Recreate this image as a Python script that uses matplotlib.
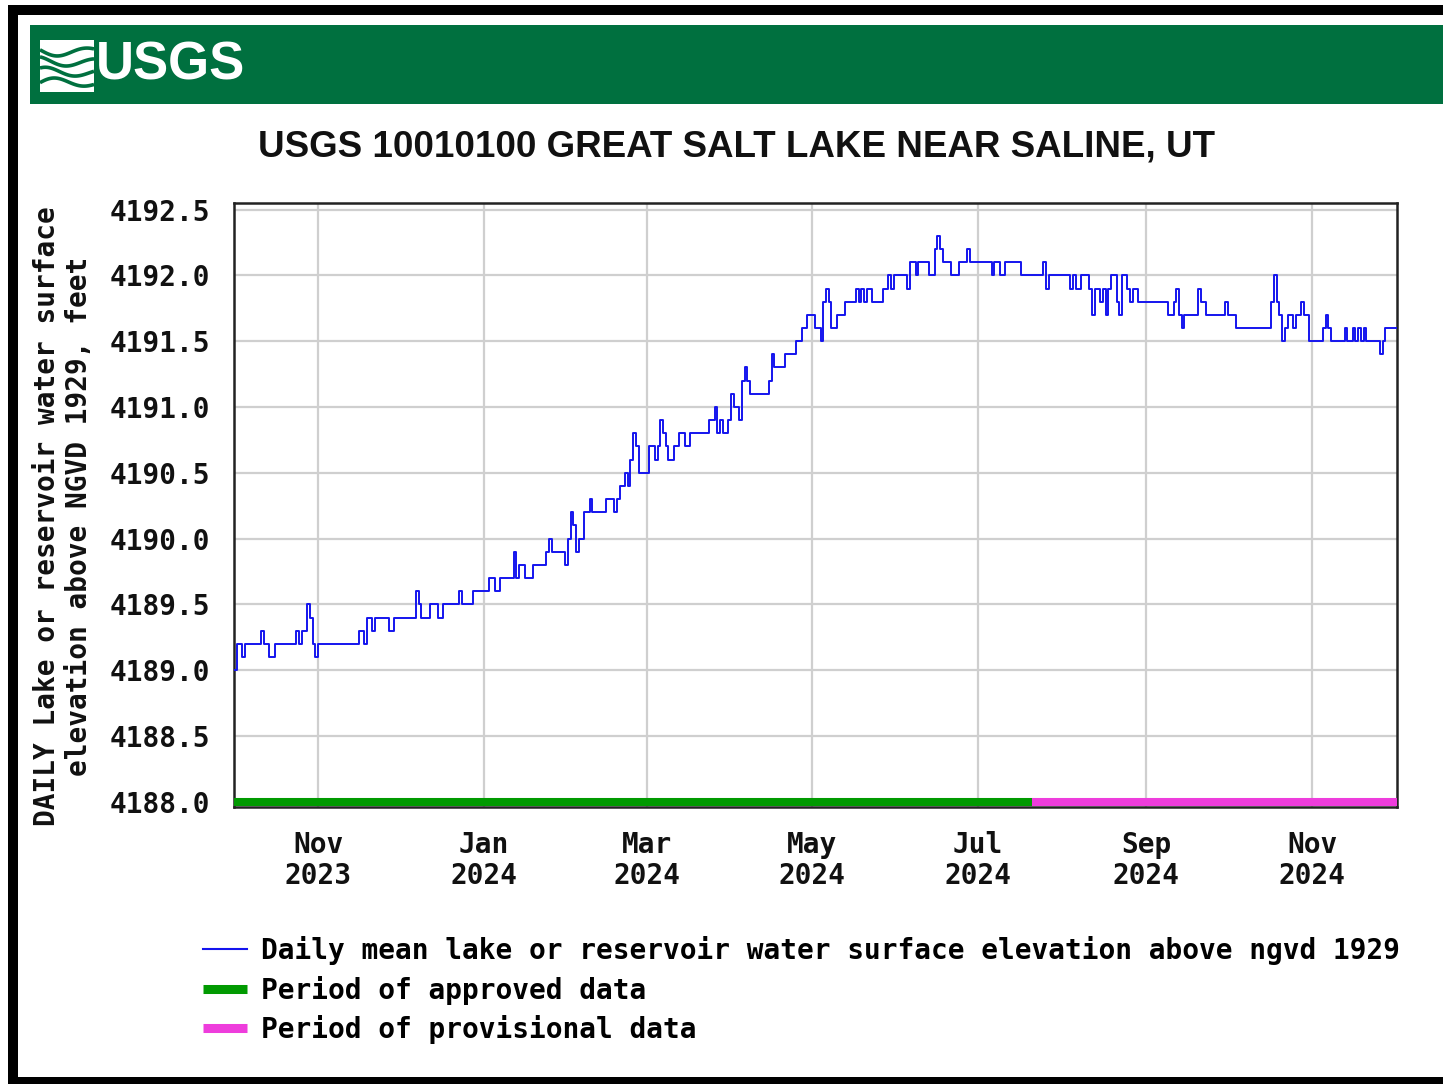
import matplotlib
matplotlib.use("Agg")
import matplotlib.pyplot as plt
from matplotlib.patches import Rectangle
from matplotlib.lines import Line2D
import numpy as np
import pandas as pd

# ---- Daily mean water-surface elevation (ft, NGVD 1929) ----
# Each value holds from its date until the next listed date.
change_dates = [
    "2023-10-01", "2023-10-02", "2023-10-04", "2023-10-05", "2023-10-11", "2023-10-12",
    "2023-10-14", "2023-10-16", "2023-10-24", "2023-10-25", "2023-10-26", "2023-10-28",
    "2023-10-29", "2023-10-30", "2023-10-31", "2023-11-01", "2023-11-16", "2023-11-18",
    "2023-11-19", "2023-11-21", "2023-11-22", "2023-11-27", "2023-11-29", "2023-12-07",
    "2023-12-08", "2023-12-09", "2023-12-12", "2023-12-15", "2023-12-17", "2023-12-23",
    "2023-12-24", "2023-12-28", "2024-01-03", "2024-01-05", "2024-01-07", "2024-01-12",
    "2024-01-13", "2024-01-14", "2024-01-16", "2024-01-19", "2024-01-24", "2024-01-25",
    "2024-01-26", "2024-01-31", "2024-02-01", "2024-02-02", "2024-02-03", "2024-02-04",
    "2024-02-05", "2024-02-07", "2024-02-09", "2024-02-10", "2024-02-15", "2024-02-18",
    "2024-02-19", "2024-02-20", "2024-02-22", "2024-02-23", "2024-02-24", "2024-02-25",
    "2024-02-26", "2024-02-27", "2024-03-02", "2024-03-04", "2024-03-05", "2024-03-06",
    "2024-03-07", "2024-03-08", "2024-03-09", "2024-03-11", "2024-03-13", "2024-03-15",
    "2024-03-17", "2024-03-24", "2024-03-26", "2024-03-27", "2024-03-28", "2024-03-29",
    "2024-03-31", "2024-04-01", "2024-04-02", "2024-04-04", "2024-04-05", "2024-04-06",
    "2024-04-07", "2024-04-08", "2024-04-15", "2024-04-16", "2024-04-17", "2024-04-21",
    "2024-04-25", "2024-04-27", "2024-04-29", "2024-05-02", "2024-05-04", "2024-05-05",
    "2024-05-06", "2024-05-07", "2024-05-08", "2024-05-10", "2024-05-13", "2024-05-17",
    "2024-05-18", "2024-05-19", "2024-05-20", "2024-05-21", "2024-05-23", "2024-05-27",
    "2024-05-29", "2024-05-30", "2024-05-31", "2024-06-05", "2024-06-06", "2024-06-08",
    "2024-06-09", "2024-06-13", "2024-06-15", "2024-06-16", "2024-06-17", "2024-06-18",
    "2024-06-21", "2024-06-24", "2024-06-27", "2024-06-28", "2024-07-06", "2024-07-07",
    "2024-07-09", "2024-07-11", "2024-07-17", "2024-07-25", "2024-07-26", "2024-07-27",
    "2024-08-04", "2024-08-05", "2024-08-06", "2024-08-08", "2024-08-11", "2024-08-12",
    "2024-08-13", "2024-08-15", "2024-08-16", "2024-08-17", "2024-08-18", "2024-08-19",
    "2024-08-21", "2024-08-22", "2024-08-23", "2024-08-25", "2024-08-26", "2024-08-27",
    "2024-08-29", "2024-09-09", "2024-09-11", "2024-09-12", "2024-09-13", "2024-09-14",
    "2024-09-15", "2024-09-20", "2024-09-21", "2024-09-23", "2024-09-30", "2024-10-01",
    "2024-10-04", "2024-10-17", "2024-10-18", "2024-10-19", "2024-10-20", "2024-10-21",
    "2024-10-22", "2024-10-23", "2024-10-25", "2024-10-26", "2024-10-28", "2024-10-29",
    "2024-10-31", "2024-11-05", "2024-11-06", "2024-11-07", "2024-11-08", "2024-11-13",
    "2024-11-14", "2024-11-16", "2024-11-17", "2024-11-18", "2024-11-19", "2024-11-20",
    "2024-11-21", "2024-11-26", "2024-11-27", "2024-11-28", "2024-12-02",
]
elevation_ft = [
    4189.0, 4189.2, 4189.1, 4189.2, 4189.3, 4189.2,
    4189.1, 4189.2, 4189.3, 4189.2, 4189.3, 4189.5,
    4189.4, 4189.2, 4189.1, 4189.2, 4189.3, 4189.2,
    4189.4, 4189.3, 4189.4, 4189.3, 4189.4, 4189.6,
    4189.5, 4189.4, 4189.5, 4189.4, 4189.5, 4189.6,
    4189.5, 4189.6, 4189.7, 4189.6, 4189.7, 4189.9,
    4189.7, 4189.8, 4189.7, 4189.8, 4189.9, 4190.0,
    4189.9, 4189.8, 4190.0, 4190.2, 4190.1, 4189.9,
    4190.0, 4190.2, 4190.3, 4190.2, 4190.3, 4190.2,
    4190.3, 4190.4, 4190.5, 4190.4, 4190.6, 4190.8,
    4190.7, 4190.5, 4190.7, 4190.6, 4190.7, 4190.9,
    4190.8, 4190.7, 4190.6, 4190.7, 4190.8, 4190.7,
    4190.8, 4190.9, 4191.0, 4190.8, 4190.9, 4190.8,
    4190.9, 4191.1, 4191.0, 4190.9, 4191.2, 4191.3,
    4191.2, 4191.1, 4191.2, 4191.4, 4191.3, 4191.4,
    4191.5, 4191.6, 4191.7, 4191.6, 4191.5, 4191.8,
    4191.9, 4191.8, 4191.6, 4191.7, 4191.8, 4191.9,
    4191.8, 4191.9, 4191.8, 4191.9, 4191.8, 4191.9,
    4192.0, 4191.9, 4192.0, 4191.9, 4192.1, 4192.0,
    4192.1, 4192.0, 4192.2, 4192.3, 4192.2, 4192.1,
    4192.0, 4192.1, 4192.2, 4192.1, 4192.0, 4192.1,
    4192.0, 4192.1, 4192.0, 4192.1, 4191.9, 4192.0,
    4191.9, 4192.0, 4191.9, 4192.0, 4191.9, 4191.7,
    4191.9, 4191.8, 4191.9, 4191.7, 4191.9, 4192.0,
    4191.8, 4191.7, 4192.0, 4191.9, 4191.8, 4191.9,
    4191.8, 4191.7, 4191.8, 4191.9, 4191.7, 4191.6,
    4191.7, 4191.9, 4191.8, 4191.7, 4191.8, 4191.7,
    4191.6, 4191.8, 4192.0, 4191.8, 4191.7, 4191.5,
    4191.6, 4191.7, 4191.6, 4191.7, 4191.8, 4191.7,
    4191.5, 4191.6, 4191.7, 4191.6, 4191.5, 4191.6,
    4191.5, 4191.6, 4191.5, 4191.6, 4191.5, 4191.6,
    4191.5, 4191.4, 4191.5, 4191.6, 4191.6,
]

# Data-approval periods
approved_start, approved_end = "2023-10-01", "2024-07-21"
provisional_start, provisional_end = "2024-07-21", "2024-12-02T07:00"

# Axis ticks
y_ticks = [4188.0, 4188.5, 4189.0, 4189.5, 4190.0, 4190.5, 4191.0, 4191.5, 4192.0, 4192.5]
y_tick_labels = ["4188.0", "4188.5", "4189.0", "4189.5", "4190.0",
                 "4190.5", "4191.0", "4191.5", "4192.0", "4192.5"]
x_tick_dates = ["2023-11-01", "2024-01-01", "2024-03-01", "2024-05-01",
                "2024-07-01", "2024-09-01", "2024-11-01"]
x_tick_labels = ["Nov\n2023", "Jan\n2024", "Mar\n2024", "May\n2024",
                 "Jul\n2024", "Sep\n2024", "Nov\n2024"]

title_text = "USGS 10010100 GREAT SALT LAKE NEAR SALINE, UT"
y_label_text = "DAILY Lake or reservoir water surface\nelevation above NGVD 1929, feet"
legend_labels = [
    "Daily mean lake or reservoir water surface elevation above ngvd 1929",
    "Period of approved data",
    "Period of provisional data",
]

# ---- colours / fonts ----
LINE_BLUE = "#1414ee"
APPROVED_GREEN = "#019a01"
PROVISIONAL_PINK = "#ee3ddc"
BANNER_GREEN = "#00703f"
GRID_GRAY = "#cfcfcf"
MONO = "DejaVu Sans Mono"
SANS = ["Liberation Sans Narrow", "Liberation Sans"]
FS = 20

W, H = 1443, 1084
fig = plt.figure(figsize=(W / 100, H / 100), dpi=100)
fig.patch.set_facecolor("white")


def px_rect(x, y, w, h, color, z=0):
    """Rectangle given in pixel units measured from the top-left corner."""
    fig.add_artist(Rectangle((x / W, 1 - (y + h) / H), w / W, h / H,
                             transform=fig.transFigure, facecolor=color,
                             edgecolor="none", zorder=z))


# page frame and banner
px_rect(8, 5, 10, 1079, "black")
px_rect(8, 5, W - 8, 10, "black")
px_rect(8, 1077, W - 8, 7, "black")
px_rect(30, 25, W - 30, 79, BANNER_GREEN)

# USGS identifier: wave mark + wordmark
logo = fig.add_axes([40 / W, 1 - 92 / H, 54 / W, 52 / H])
logo.set_xlim(0, 1)
logo.set_ylim(0, 1)
logo.axis("off")
logo.add_patch(Rectangle((0, 0), 1, 1, facecolor="white", edgecolor="none"))
t = np.linspace(0, 1, 60)
for k, off in enumerate([0.18, 0.38, 0.58, 0.78]):
    logo.plot(t, off + 0.10 * np.sin(2 * np.pi * (t * 0.9 + 0.15 * k)) * (1 - 0.4 * t),
              color=BANNER_GREEN, lw=2.6, solid_capstyle="butt")
fig.text(96 / W, 1 - 66 / H, "USGS", color="white", fontsize=38, fontweight="bold",
         family=SANS, ha="left", va="center")

# chart title
fig.text(737 / W, 1 - 147 / H, title_text, fontsize=26.5, fontweight="bold",
         family=SANS, ha="center", va="center", color="#111111")

# ---- plot area ----
ax = fig.add_axes([234 / W, 1 - 807 / H, (1397 - 234) / W, (807 - 203) / H])
dates = pd.to_datetime(change_dates)
ax.plot(dates, elevation_ft, drawstyle="steps-post", color=LINE_BLUE, lw=1.4, zorder=3)

ax.plot(pd.to_datetime([approved_start, approved_end]), [y_ticks[0]] * 2,
        color=APPROVED_GREEN, lw=5.8, solid_capstyle="butt", zorder=4)
ax.plot([pd.Timestamp(provisional_start), pd.Timestamp(provisional_end)], [y_ticks[0]] * 2,
        color=PROVISIONAL_PINK, lw=5.8, solid_capstyle="butt", zorder=4)

ax.set_xlim(pd.Timestamp("2023-10-01"), pd.Timestamp(provisional_end))
ax.set_ylim(4187.96, 4192.55)

ax.set_yticks(y_ticks)
ax.set_yticklabels(y_tick_labels)
ax.set_xticks(pd.to_datetime(x_tick_dates))
ax.set_xticklabels(x_tick_labels)
ax.tick_params(axis="both", length=0, labelsize=FS)
ax.tick_params(axis="y", pad=17)
ax.tick_params(axis="x", pad=17)
for lbl in ax.get_xticklabels() + ax.get_yticklabels():
    lbl.set_fontfamily(MONO)
    lbl.set_fontweight("bold")
    lbl.set_color("#111111")
for lbl in ax.get_xticklabels():
    lbl.set_linespacing(1.15)

ax.grid(True, color=GRID_GRAY, lw=1.6, zorder=0)
ax.set_axisbelow(True)
for sp in ax.spines.values():
    sp.set_color("#222222")
    sp.set_linewidth(1.8)

fig.text(63 / W, 1 - 516 / H, y_label_text, rotation=90, ha="center", va="center",
         multialignment="center", fontsize=FS, family=MONO, fontweight="bold",
         color="#111111", linespacing=1.15)

# ---- legend ----
handles = [
    Line2D([], [], color=LINE_BLUE, lw=1.5),
    Line2D([], [], color=APPROVED_GREEN, lw=6.5, solid_capstyle="butt"),
    Line2D([], [], color=PROVISIONAL_PINK, lw=6.5, solid_capstyle="butt"),
]
fig.legend(handles, legend_labels, loc="upper left",
           bbox_to_anchor=(203 / W, 1 - 936 / H), frameon=False,
           prop={"family": MONO, "weight": "bold", "size": FS},
           handlelength=1.6, handletextpad=0.5, labelspacing=0.38,
           borderpad=0, borderaxespad=0)

fig.savefig("out.png", dpi=100, facecolor="white")
